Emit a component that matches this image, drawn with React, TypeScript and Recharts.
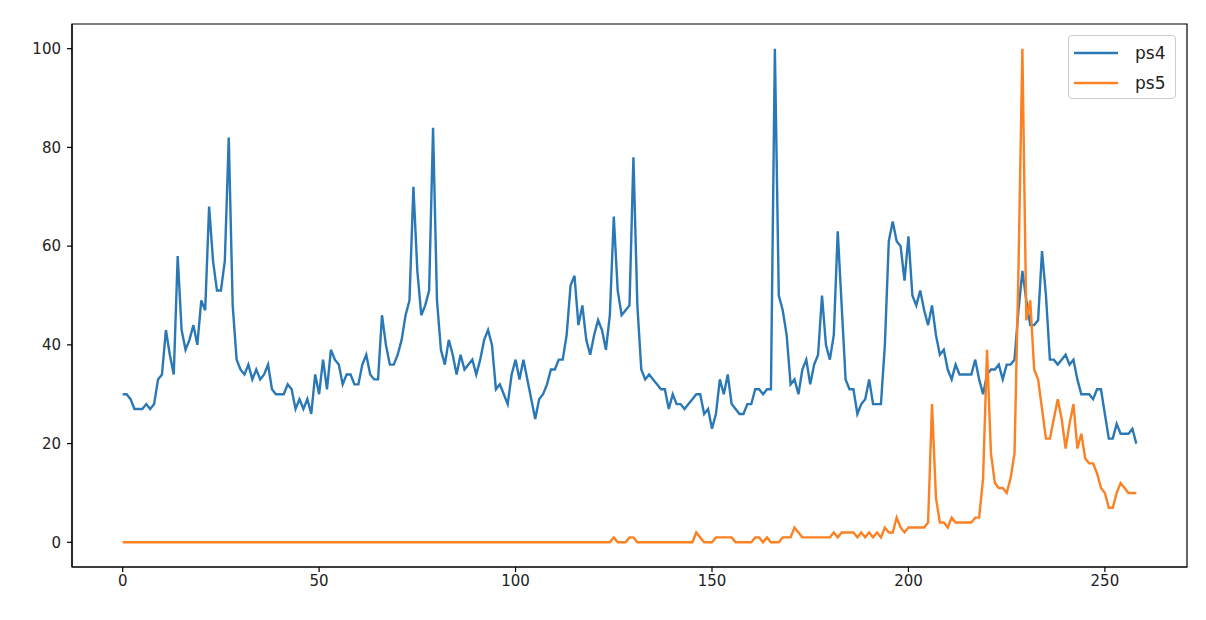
import React from 'react'
import { LineChart, Line, XAxis, YAxis, ReferenceArea, Legend } from 'recharts'

// ps4 values, index 0..258
const ps4 = [
  30, 30, 29, 27, 27, 27, 28, 27, 28, 33,
  34, 43, 38, 34, 58, 43, 39, 41, 44, 40,
  49, 47, 68, 57, 51, 51, 57, 82, 48, 37,
  35, 34, 36, 33, 35, 33, 34, 36, 31, 30,
  30, 30, 32, 31, 27, 29, 27, 29, 26, 34,
  30, 37, 31, 39, 37, 36, 32, 34, 34, 32,
  32, 36, 38, 34, 33, 33, 46, 40, 36, 36,
  38, 41, 46, 49, 72, 55, 46, 48, 51, 84,
  49, 39, 36, 41, 38, 34, 38, 35, 36, 37,
  34, 37, 41, 43, 40, 31, 32, 30, 28, 34,
  37, 33, 37, 33, 29, 25, 29, 30, 32, 35,
  35, 37, 37, 42, 52, 54, 44, 48, 41, 38,
  42, 45, 43, 39, 46, 66, 51, 46, 47, 48,
  78, 48, 35, 33, 34, 33, 32, 31, 31, 27,
  30, 28, 28, 27, 28, 29, 30, 30, 26, 27,
  23, 26, 33, 30, 34, 28, 27, 26, 26, 28,
  28, 31, 31, 30, 31, 31, 100, 50, 47, 42,
  32, 33, 30, 35, 37, 32, 36, 38, 50, 40,
  37, 42, 63, 48, 33, 31, 31, 26, 28, 29,
  33, 28, 28, 28, 40, 61, 65, 61, 60, 53,
  62, 50, 48, 51, 47, 44, 48, 42, 38, 39,
  35, 33, 36, 34, 34, 34, 34, 37, 33, 30,
  34, 35, 35, 36, 33, 36, 36, 37, 47, 55,
  49, 44, 44, 45, 59, 50, 37, 37, 36, 37,
  38, 36, 37, 33, 30, 30, 30, 29, 31, 31,
  26, 21, 21, 24, 22, 22, 22, 23, 20,
]

// ps5 values, index 0..258
const ps5 = [
  0, 0, 0, 0, 0, 0, 0, 0, 0, 0,
  0, 0, 0, 0, 0, 0, 0, 0, 0, 0,
  0, 0, 0, 0, 0, 0, 0, 0, 0, 0,
  0, 0, 0, 0, 0, 0, 0, 0, 0, 0,
  0, 0, 0, 0, 0, 0, 0, 0, 0, 0,
  0, 0, 0, 0, 0, 0, 0, 0, 0, 0,
  0, 0, 0, 0, 0, 0, 0, 0, 0, 0,
  0, 0, 0, 0, 0, 0, 0, 0, 0, 0,
  0, 0, 0, 0, 0, 0, 0, 0, 0, 0,
  0, 0, 0, 0, 0, 0, 0, 0, 0, 0,
  0, 0, 0, 0, 0, 0, 0, 0, 0, 0,
  0, 0, 0, 0, 0, 0, 0, 0, 0, 0,
  0, 0, 0, 0, 0, 1, 0, 0, 0, 1,
  1, 0, 0, 0, 0, 0, 0, 0, 0, 0,
  0, 0, 0, 0, 0, 0, 2, 1, 0, 0,
  0, 1, 1, 1, 1, 1, 0, 0, 0, 0,
  0, 1, 1, 0, 1, 0, 0, 0, 1, 1,
  1, 3, 2, 1, 1, 1, 1, 1, 1, 1,
  1, 2, 1, 2, 2, 2, 2, 1, 2, 1,
  2, 1, 2, 1, 3, 2, 2, 5, 3, 2,
  3, 3, 3, 3, 3, 4, 28, 9, 4, 4,
  3, 5, 4, 4, 4, 4, 4, 5, 5, 13,
  39, 18, 12, 11, 11, 10, 13, 18, 55, 100,
  45, 49, 35, 33, 27, 21, 21, 25, 29, 25,
  19, 24, 28, 19, 22, 17, 16, 16, 14, 11,
  10, 7, 7, 10, 12, 11, 10, 10, 10,
]

const xTicks = [0, 50, 100, 150, 200, 250]
const yTicks = [0, 20, 40, 60, 80, 100]
const xDomain = [-12.9, 270.9]
const yDomain = [-5, 105]

const BLUE = '#2a78b6'
const ORANGE = '#fb8123'
const FONT = '"DejaVu Sans", sans-serif'

const data = ps4.map((v, i) => ({ idx: i, ps4: v, ps5: ps5[i] }))

const LegendBox = (props: any) => {
  const items = props.payload || []
  return (
    <div
      style={{
        width: 108,
        height: 64,
        boxSizing: 'border-box',
        border: '1px solid #cccccc',
        borderRadius: 4,
        background: 'rgba(255,255,255,0.8)',
        fontFamily: FONT,
        fontSize: 17,
        color: '#222',
        position: 'relative',
      }}
    >
      {items.map((it: any, k: number) => (
        <div
          key={it.value}
          style={{ position: 'absolute', left: 5, top: 5 + k * 30, height: 24, display: 'flex', alignItems: 'center' }}
        >
          <svg width={44} height={24}>
            <line x1={0} x2={44} y1={12} y2={12} stroke={it.color} strokeWidth={2.4} />
          </svg>
          <span style={{ marginLeft: 17 }}>{it.value}</span>
        </div>
      ))}
    </div>
  )
}

export default function App() {
  return (
    <div style={{ position: 'absolute', left: 0, top: 0, width: 1206, height: 620, background: '#fff' }}>
      <LineChart width={1206} height={620} data={data} margin={{ top: 24, right: 19, bottom: 23, left: 0 }}>
        <XAxis
          dataKey="idx"
          type="number"
          domain={xDomain}
          ticks={xTicks}
          allowDataOverflow
          height={30}
          tickSize={5}
          tickMargin={3}
          axisLine={{ stroke: '#000', strokeWidth: 1.2 }}
          tickLine={{ stroke: '#000', strokeWidth: 1.2 }}
          tick={{ fill: '#222', fontSize: 15, fontFamily: FONT }}
        />
        <YAxis
          type="number"
          domain={yDomain}
          ticks={yTicks}
          allowDataOverflow
          width={72}
          tickSize={5}
          tickMargin={6}
          axisLine={{ stroke: '#000', strokeWidth: 1.2 }}
          tickLine={{ stroke: '#000', strokeWidth: 1.2 }}
          tick={{ fill: '#222', fontSize: 15, fontFamily: FONT }}
        />
        <ReferenceArea
          x1={xDomain[0]}
          x2={xDomain[1]}
          y1={yDomain[0]}
          y2={yDomain[1]}
          fill="none"
          stroke="#000"
          strokeWidth={1.2}
        />
        <Line dataKey="ps4" name="ps4" stroke={BLUE} strokeWidth={2.4} dot={false} isAnimationActive={false} />
        <Line dataKey="ps5" name="ps5" stroke={ORANGE} strokeWidth={2.4} dot={false} isAnimationActive={false} />
        <Legend
          layout="vertical"
          align="center"
          verticalAlign="middle"
          content={<LegendBox />}
          wrapperStyle={{ position: 'absolute', left: 1068, top: 35, width: 110, height: 66 }}
        />
      </LineChart>
    </div>
  )
}
